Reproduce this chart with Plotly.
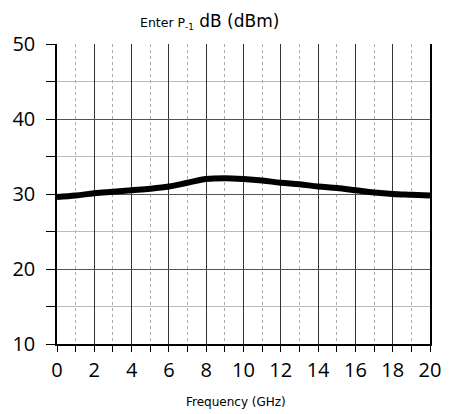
import plotly.graph_objects as go

freq = [0, 1, 2, 3, 4, 5, 6, 7, 8, 9, 10, 11, 12, 13, 14, 15, 16, 17, 18, 19, 20]
p1db = [29.6, 29.8, 30.1, 30.3, 30.5, 30.7, 31.0, 31.5, 32.0, 32.1, 32.0, 31.8, 31.5, 31.3, 31.0, 30.8, 30.5, 30.2, 30.0, 29.9, 29.8]

xticks = [0, 2, 4, 6, 8, 10, 12, 14, 16, 18, 20]
yticks = [10, 20, 30, 40, 50]

fig = go.Figure()
fig.add_trace(go.Scatter(x=freq, y=p1db, mode="lines",
                         line=dict(color="black", width=6, shape="spline"),
                         showlegend=False, hoverinfo="skip"))

fig.update_layout(
    width=453, height=414,
    margin=dict(l=57, r=18, t=44, b=70),
    paper_bgcolor="white", plot_bgcolor="white",
    font=dict(family="Open Sans", color="black"),
    xaxis=dict(range=[0, 20], tickvals=xticks, ticktext=[str(v) for v in xticks],
               showgrid=True, gridcolor="#333333", gridwidth=1,
               showline=True, linecolor="black", linewidth=1.5,
               ticks="outside", ticklen=6, tickcolor="black",
               tickfont=dict(size=20, family="Open Sans", color="black"),
               ticklabelstandoff=1,
               minor=dict(dtick=1, tick0=0, showgrid=True, gridcolor="#aaaaaa",
                          griddash="dot", gridwidth=1, ticks="outside",
                          ticklen=6, tickcolor="black"),
               zeroline=False, fixedrange=True),
    yaxis=dict(range=[10, 50], tickvals=yticks, ticktext=[str(v) for v in yticks],
               showgrid=True, gridcolor="#555555", gridwidth=1,
               showline=True, linecolor="black", linewidth=1.5, mirror=True,
               ticks="outside", ticklen=9, tickcolor="black",
               tickfont=dict(size=20, family="Open Sans", color="black"),
               ticklabelstandoff=7,
               minor=dict(dtick=5, tick0=10, showgrid=True, gridcolor="#bbbbbb",
                          gridwidth=1, ticks="outside", ticklen=9, tickcolor="black"),
               zeroline=False, fixedrange=True),
    annotations=[
        dict(text="Enter P<sub>-1</sub><span style='font-size:17px'> dB (dBm)</span>",
             xref="paper", yref="paper", x=0.41, y=1.0, yshift=10,
             xanchor="center", yanchor="bottom", showarrow=False,
             font=dict(size=12.5, family="DejaVu Sans", color="black")),
        dict(text="Frequency (GHz)", xref="paper", yref="paper",
             x=0.48, y=0, yshift=-49, xanchor="center", yanchor="top",
             showarrow=False, font=dict(size=12, family="DejaVu Sans", color="black")),
    ],
)

fig.write_html("out.html")
